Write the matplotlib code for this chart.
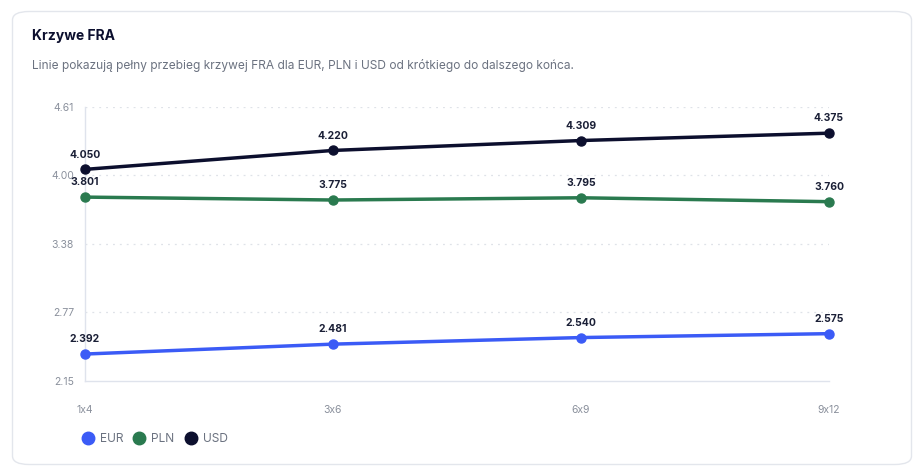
import matplotlib.pyplot as plt
from matplotlib.patches import FancyBboxPatch
from matplotlib.lines import Line2D

plt.rcParams['font.family'] = ['Inter', 'DejaVu Sans']

tenors = ['1x4', '3x6', '6x9', '9x12']
eur = [2.392, 2.481, 2.540, 2.575]
pln = [3.801, 3.775, 3.795, 3.760]
usd = [4.050, 4.220, 4.309, 4.375]
y_ticks = [2.15, 2.77, 3.38, 4.00, 4.61]

series = [('EUR', eur, '#3b5bf6'), ('PLN', pln, '#2a7a4f'), ('USD', usd, '#0c0f2e')]

fig = plt.figure(figsize=(9.24, 4.75), dpi=100)
W, H = 924, 475

# card background
card = FancyBboxPatch((12.5 / W, 10.5 / H), 899 / W, 453 / H,
                      boxstyle='round,pad=0,rounding_size=0.018',
                      transform=fig.transFigure, facecolor='white',
                      edgecolor='#e3e6ec', linewidth=1.0, zorder=-5)
fig.patches.append(card)

fig.text(32 / W, 1 - 36 / H, 'Krzywe FRA', fontsize=10, fontweight='bold',
         color='#0c0f2e', va='center', ha='left')
fig.text(32 / W, 1 - 65 / H,
         'Linie pokazują pełny przebieg krzywej FRA dla EUR, PLN i USD od krótkiego do dalszego końca.',
         fontsize=8.6, color='#6b7280', va='center', ha='left')

ax = fig.add_axes([85 / W, 1 - 381 / H, (829 - 85) / W, (381 - 107) / H])
x = list(range(len(tenors)))
for name, vals, col in series:
    ax.plot(x, vals, color=col, linewidth=2.5, marker='o', markersize=6.5,
            solid_capstyle='round', zorder=3, clip_on=False)
    for xi, v in zip(x, vals):
        ax.annotate(f'{v:.3f}', (xi, v), xytext=(0, 7), textcoords='offset points',
                    ha='center', va='bottom', fontsize=7.5, fontweight='bold',
                    color='#1a1f36', zorder=4)

ax.set_xlim(0, 3)
ax.set_ylim(2.15, 4.61)
ax.set_yticks(y_ticks)
ax.set_yticklabels([f'{t:.2f}' for t in y_ticks])
ax.set_xticks(x)
ax.set_xticklabels(tenors)
ax.tick_params(axis='both', length=0, labelsize=7.5, labelcolor='#8a909c')
ax.tick_params(axis='y', pad=8)
ax.tick_params(axis='x', pad=17)

for t in y_ticks[1:]:
    ax.axhline(t, color='#dfe2e8', linewidth=0.9, linestyle=(0, (1.5, 4)), zorder=1)

for s in ['top', 'right']:
    ax.spines[s].set_visible(False)
for s in ['left', 'bottom']:
    ax.spines[s].set_color('#dfe3ec')
    ax.spines[s].set_linewidth(1.0)
ax.set_facecolor('none')

handles = [Line2D([], [], marker='o', linestyle='none', markersize=9,
                  markerfacecolor=c, markeredgecolor=c) for _, _, c in series]
fig.legend(handles, [n for n, _, _ in series], loc='center left',
           bbox_to_anchor=(70 / W, 1 - 439 / H), ncol=3, frameon=False,
           fontsize=8.6, labelcolor='#6b7280', handletextpad=0.4,
           columnspacing=0.75, handlelength=1.2)

fig.savefig('out.png', dpi=100)
